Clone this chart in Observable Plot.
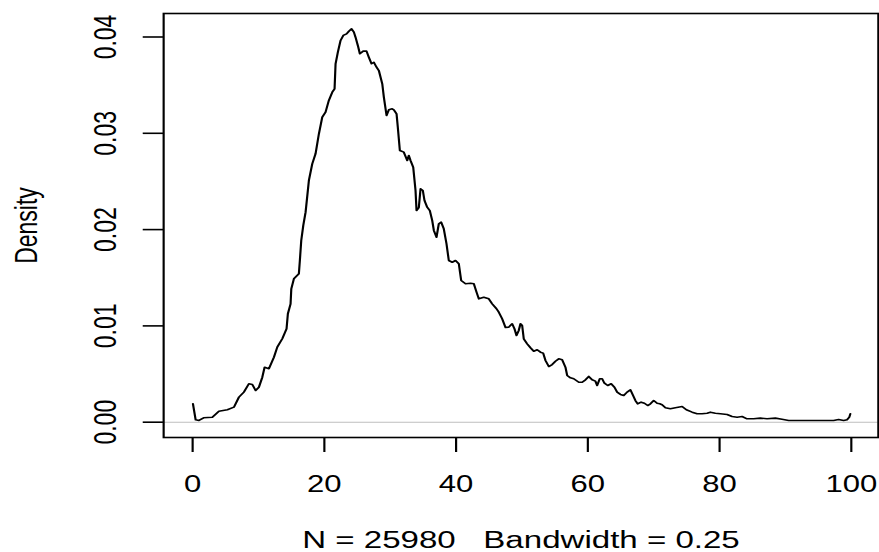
<!DOCTYPE html>
<html>
<head>
<meta charset="utf-8">
<script src="https://cdn.jsdelivr.net/npm/d3@7"></script>
<script src="https://cdn.jsdelivr.net/npm/@observablehq/plot@0.6"></script>
<style>
  html, body { margin: 0; padding: 0; background: #fff; }
  #chart svg { display: block; }
  #chart text { white-space: pre; }
</style>
</head>
<body>
<div id="chart"></div>
<script>
// Density estimate
const densityX = [0.05,0.46,0.96,1.67,2.99,3.99,5.27,6.27,7.03,7.78,8.54,9.06,9.56,10.06,10.58,10.93,11.58,12.34,12.85,13.61,14.26,14.46,14.87,14.98,15.37,16.13,16.28,16.49,16.80,17.15,17.65,18.16,18.66,19.17,19.68,20.18,20.68,21.20,21.55,21.70,22.05,22.46,22.87,23.37,23.72,24.13,24.48,24.73,25.08,25.39,25.90,26.40,26.75,27.16,27.51,27.92,28.27,28.79,29.03,29.44,29.79,30.30,30.55,30.96,31.15,31.46,32.06,32.58,32.82,33.08,33.49,33.84,33.99,34.34,34.60,34.95,35.20,35.61,36.01,36.37,36.62,37.03,37.37,37.74,38.13,38.54,38.89,39.41,39.91,40.41,40.77,41.43,42.19,42.69,43.10,43.45,44.20,44.96,45.48,46.13,46.48,46.99,47.50,48.00,48.51,48.86,49.17,49.51,49.77,50.03,50.27,50.79,51.29,51.79,52.31,52.81,53.22,53.57,54.07,54.58,55.08,55.58,56.10,56.60,56.86,57.36,57.86,58.63,59.14,59.64,60.14,60.65,61.15,61.41,61.81,62.17,62.52,63.02,63.54,64.04,64.45,64.95,65.45,65.96,66.46,66.87,67.22,67.57,68.09,68.59,69.09,69.50,70.00,70.52,70.91,71.27,71.78,72.53,73.29,74.31,74.96,75.83,76.59,77.34,78.10,78.60,79.36,80.12,81.14,81.90,82.66,83.41,84.17,85.17,86.19,87.21,88.47,89.48,90.49,92.26,94.80,97.31,98.07,98.83,99.35,99.70,99.85];
const densityY = [0.00191,0.00025,0.00018,0.00046,0.00052,0.00114,0.00129,0.00156,0.00260,0.00312,0.00399,0.00391,0.00329,0.00363,0.00467,0.00571,0.00555,0.00675,0.00779,0.00866,0.00970,0.01126,0.01229,0.01385,0.01489,0.01541,0.01679,0.01887,0.02043,0.02181,0.02510,0.02683,0.02787,0.02995,0.03167,0.03219,0.03341,0.03427,0.03462,0.03722,0.03842,0.03964,0.04016,0.04033,0.04060,0.04085,0.04050,0.03998,0.03912,0.03826,0.03853,0.03853,0.03790,0.03722,0.03738,0.03686,0.03652,0.03514,0.03375,0.03185,0.03244,0.03254,0.03244,0.03202,0.03063,0.02821,0.02804,0.02718,0.02769,0.02718,0.02648,0.02406,0.02198,0.02229,0.02424,0.02406,0.02302,0.02233,0.02198,0.02095,0.01991,0.01921,0.02060,0.02077,0.02008,0.01853,0.01679,0.01661,0.01679,0.01645,0.01471,0.01437,0.01443,0.01437,0.01350,0.01281,0.01298,0.01281,0.01229,0.01178,0.01142,0.01074,0.00983,0.00987,0.01022,0.00970,0.00900,0.00952,0.01022,0.01004,0.00866,0.00814,0.00773,0.00737,0.00752,0.00727,0.00717,0.00641,0.00578,0.00599,0.00633,0.00658,0.00648,0.00571,0.00485,0.00461,0.00451,0.00415,0.00415,0.00440,0.00475,0.00440,0.00426,0.00381,0.00451,0.00451,0.00405,0.00381,0.00399,0.00363,0.00312,0.00288,0.00277,0.00312,0.00336,0.00277,0.00225,0.00191,0.00208,0.00197,0.00173,0.00191,0.00225,0.00197,0.00191,0.00181,0.00150,0.00139,0.00150,0.00163,0.00129,0.00104,0.00087,0.00087,0.00093,0.00104,0.00093,0.00087,0.00080,0.00059,0.00052,0.00059,0.00035,0.00035,0.00042,0.00035,0.00042,0.00031,0.00018,0.00018,0.00018,0.00018,0.00028,0.00018,0.00025,0.00052,0.00087];

const xTicks = [0, 20, 40, 60, 80, 100];
const yTicks = [0, 0.01, 0.02, 0.03, 0.04];
const yTitle = ["Density"];
const subTitle = ["N = 25980   Bandwidth = 0.25"];

const data = densityX.map((x, i) => ({x, y: densityY[i]}));

const W = 651, H = 552, OUT_W = 879;

const plot = Plot.plot({
  width: W,
  height: H,
  marginLeft: 120.7,
  marginRight: 1,
  marginTop: 13,
  marginBottom: 115,
  x: {domain: [-4.4, 104.1], label: null},
  y: {domain: [-0.00159, 0.04244], label: null},
  style: {
    fontFamily: "'Liberation Sans', Arial, Helvetica, sans-serif",
    fontSize: "23px",
    color: "black",
    background: "white"
  },
  marks: [
    Plot.ruleY([0], {stroke: "#bebebe", strokeWidth: 1}),
    Plot.line(data, {x: "x", y: "y", stroke: "black", strokeWidth: 1.6}),
    Plot.frame({stroke: "black", strokeWidth: 1.6}),
    Plot.axisX({ticks: xTicks, tickSize: 15, tickPadding: 23, tickFormat: d => String(d), strokeWidth: 1.6, label: null}),
    Plot.axisY({ticks: yTicks, tickSize: 15, tickRotate: -90, tickPadding: 20, tickFormat: d => d.toFixed(2), strokeWidth: 1.6, label: null}),
    Plot.text(yTitle, {text: d => d, frameAnchor: "left", dx: -101, rotate: -90, textAnchor: "middle", lineAnchor: "middle"}),
    Plot.text(subTitle, {text: d => d, frameAnchor: "bottom", dy: 103, textAnchor: "middle", lineAnchor: "middle", fontSize: 24.5})
  ]
});

plot.setAttribute("width", OUT_W);
plot.setAttribute("height", H);
plot.setAttribute("preserveAspectRatio", "none");
plot.style.width = OUT_W + "px";
plot.style.height = H + "px";
plot.style.maxWidth = "none";
document.getElementById("chart").append(plot);
</script>
</body>
</html>
